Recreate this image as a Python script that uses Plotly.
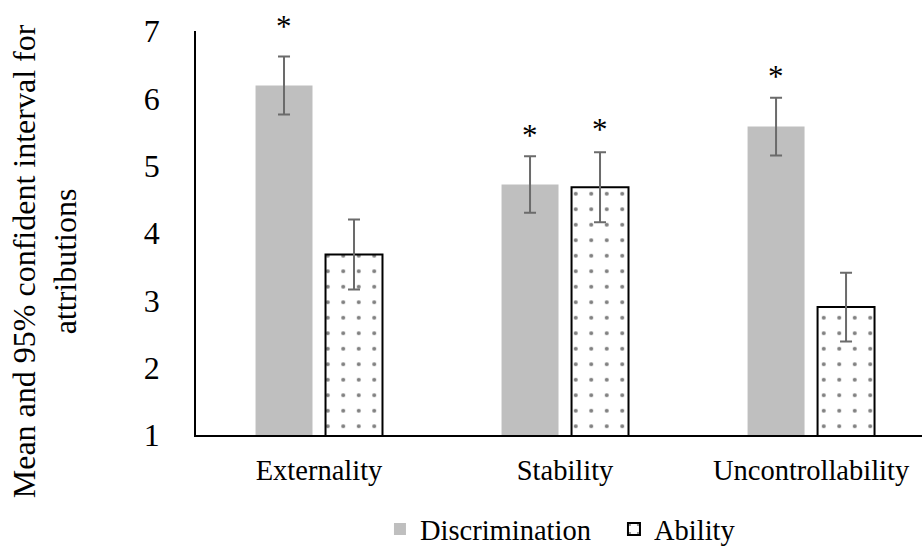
import plotly.graph_objects as go

# Attribution ratings by condition (mean and 95% CI half-width)
categories = ["Externality", "Stability", "Uncontrollability"]
discrimination_mean = [6.19, 4.72, 5.58]
discrimination_ci = [0.43, 0.42, 0.43]
ability_mean = [3.68, 4.68, 2.90]
ability_ci = [0.52, 0.52, 0.51]

# Significance markers: (category index, series, level on the y scale)
star_marks = [(0, "Discrimination", 7.06), (1, "Discrimination", 5.45),
              (1, "Ability", 5.54), (2, "Discrimination", 6.33)]

y_ticks = [1, 2, 3, 4, 5, 6, 7]
y_range = [1, 7]
y_title = "Mean and 95% confident interval for<br>attributions"

FONT = "Liberation Serif"
BARGAP = 0.431
BARGROUPGAP = 0.186

fig = go.Figure()
fig.add_trace(go.Bar(
    name="Discrimination", x=categories, y=discrimination_mean,
    marker=dict(color="#bfbfbf", line=dict(width=0)),
    error_y=dict(type="data", array=discrimination_ci, color="#6b6b6b",
                 thickness=2, width=6),
))
fig.add_trace(go.Bar(
    name="Ability", x=categories, y=ability_mean,
    marker=dict(color="white", line=dict(color="black", width=2),
                pattern=dict(shape=".", fgcolor="black", bgcolor="white",
                             size=15.5, solidity=0.055)),
    error_y=dict(type="data", array=ability_ci, color="#6b6b6b",
                 thickness=2, width=6),
))

# Centre offset of each series inside a category group
slot = (1 - BARGAP) / 2
offsets = {"Discrimination": -slot / 2, "Ability": slot / 2}
for idx, series, level in star_marks:
    # paper coordinates so a marker above the top of the axis is still drawn
    fig.add_annotation(x=idx + offsets[series], xref="x",
                       y=(level - y_range[0]) / (y_range[1] - y_range[0]),
                       yref="paper", text="*", showarrow=False,
                       font=dict(family=FONT, size=31, color="black"),
                       xanchor="center", yanchor="middle")

fig.add_annotation(x=-0.208, y=0.43, xref="paper", yref="paper",
                   text=y_title, textangle=-90, showarrow=False,
                   font=dict(family=FONT, size=32, color="black"),
                   xanchor="center", yanchor="middle")

fig.update_layout(
    width=923, height=547,
    margin=dict(l=196, r=1, t=31, b=112, autoexpand=False),
    paper_bgcolor="white", plot_bgcolor="white",
    barmode="group", bargap=BARGAP, bargroupgap=BARGROUPGAP,
    font=dict(family=FONT, color="black"),
    showlegend=True,
    legend=dict(orientation="h", x=0.2534, xanchor="left",
                y=-0.297, yref="paper", yanchor="bottom",
                font=dict(family=FONT, size=28.5, color="black"),
                itemwidth=30, entrywidth=189, bgcolor="rgba(0,0,0,0)"),
)
fig.update_xaxes(range=[-0.5, 2.451], showline=True, linecolor="black",
                 linewidth=1.5, ticks="", showgrid=False, zeroline=False,
                 tickfont=dict(family=FONT, size=28.5, color="black"),
                 ticklabelstandoff=9)
fig.update_yaxes(range=y_range, tickvals=y_ticks, showline=True,
                 linecolor="black", linewidth=1.5, ticks="", showgrid=False,
                 zeroline=False, ticklabelstandoff=28,
                 tickfont=dict(family=FONT, size=32, color="black"))

fig.write_html("out.html")
